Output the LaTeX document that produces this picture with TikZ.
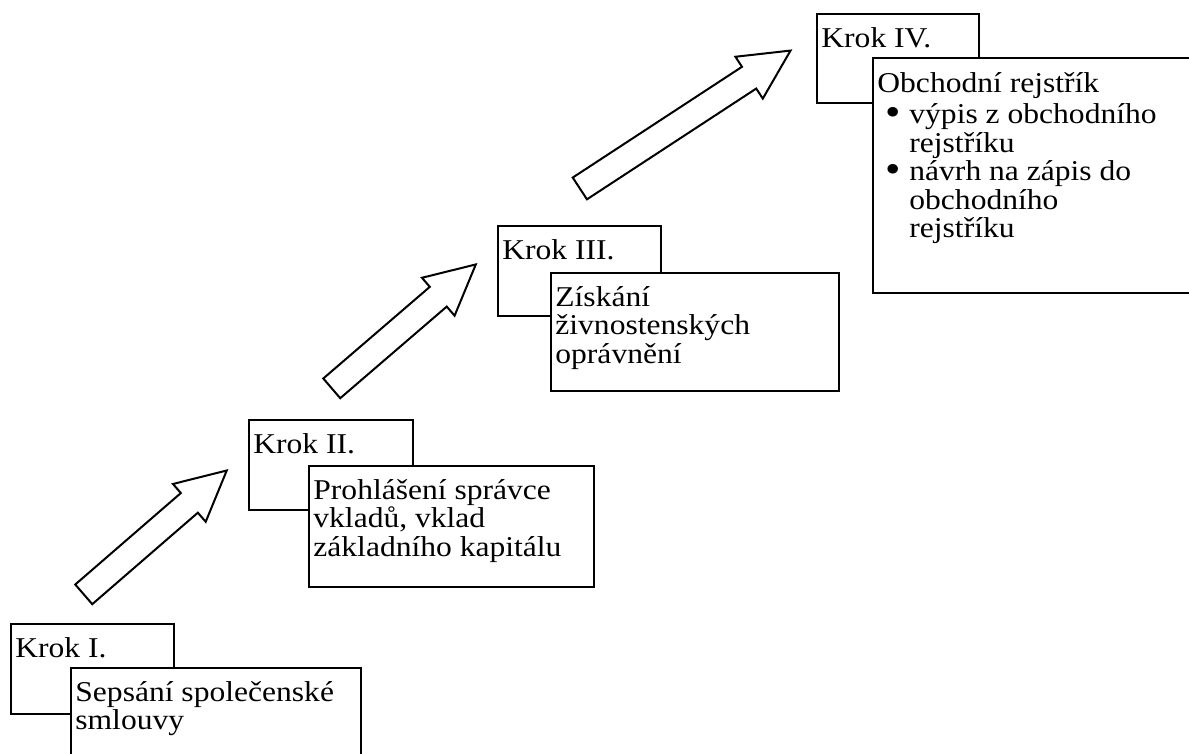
\documentclass[tikz,border=0pt]{standalone}
\usepackage{fontspec}
\setmainfont{Liberation Serif}[FakeStretch=1.1]
\usetikzlibrary{shapes.arrows}

\tikzset{
  krok/.style={draw, line width=1pt, fill=white, anchor=north west, inner sep=0pt},
  kroktext/.style={anchor=north west, inner sep=0pt, align=left,
    font=\fontsize{14.35pt}{14.2pt}\selectfont},
  sipka/.style={draw, line width=1pt, fill=white, shape=single arrow,
    inner xsep=0pt, inner ysep=6pt, anchor=tail, single arrow head extend=6pt,
    single arrow tip angle=53.6}
}
\newcommand{\odrazka}{\makebox[12pt][l]{\raisebox{-1pt}[0pt][0pt]{\fontsize{20pt}{14pt}\selectfont\textbullet}}}

\begin{document}
\begin{tikzpicture}[x=0.5pt, y=-0.5pt]
        \useasboundingbox (0,0) rectangle (1189,754);
        \clip (0,0) rectangle (1189,754);
        % arrows
        \node[sipka, minimum height=94.6pt, rotate=40.9] (a1) at (83,595) {};
        \node[sipka, minimum height=95pt, rotate=40.7] (a2) at (331,389) {};
        \node[sipka, minimum height=125.9pt, rotate=33.2] (a3) at (579,189) {};
        % Krok I.
        \node[krok, minimum width=81.5pt, minimum height=45pt] (k1) at (10,623) {};
        \node[krok, minimum width=145pt, minimum height=60pt] (p1) at (70,667) {};
        \node[kroktext] (k1t) at ([shift={(5,10)}]k1.north west) {\rule{0pt}{12pt}Krok I.};
        \node[kroktext] (p1t) at ([shift={(5,10)}]p1.north west) {\rule{0pt}{12pt}Sepsání společenské\\smlouvy};
        % Krok II.
        \node[krok, minimum width=82pt, minimum height=45pt] (k2) at (248,419) {};
        \node[krok, minimum width=142.5pt, minimum height=60.5pt] (p2) at (308,465) {};
        \node[kroktext] (k2t) at ([shift={(5,10)}]k2.north west) {\rule{0pt}{12pt}Krok II.};
        \node[kroktext] (p2t) at ([shift={(5,10)}]p2.north west) {\rule{0pt}{12pt}Prohlášení správce\\vkladů, vklad\\základního kapitálu};
        % Krok III.
        \node[krok, minimum width=81.5pt, minimum height=45pt] (k3) at (497,225) {};
        \node[krok, minimum width=144pt, minimum height=59pt] (p3) at (550,272) {};
        \node[kroktext] (k3t) at ([shift={(5,10)}]k3.north west) {\rule{0pt}{12pt}Krok III.};
        \node[kroktext] (p3t) at ([shift={(5,10)}]p3.north west) {\rule{0pt}{12pt}Získání\\živnostenských\\oprávnění};
        % Krok IV.
        \node[krok, minimum width=81pt, minimum height=44.5pt] (k4) at (816,13) {};
        \node[krok, minimum width=170pt, minimum height=117.5pt] (p4) at (872,57) {};
        \node[kroktext] (k4t) at ([shift={(5,10)}]k4.north west) {\rule{0pt}{12pt}Krok IV.};
        \node[kroktext] (p4t) at ([shift={(5,11)}]p4.north west) {\rule{0pt}{12pt}Obchodní rejstřík\\[1.6pt]
          \hspace*{4pt}\odrazka výpis z obchodního\\
          \hspace*{16pt}rejstříku\\
          \hspace*{4pt}\odrazka návrh na zápis do\\
          \hspace*{16pt}obchodního\\
          \hspace*{16pt}rejstříku};
\end{tikzpicture}
\end{document}
